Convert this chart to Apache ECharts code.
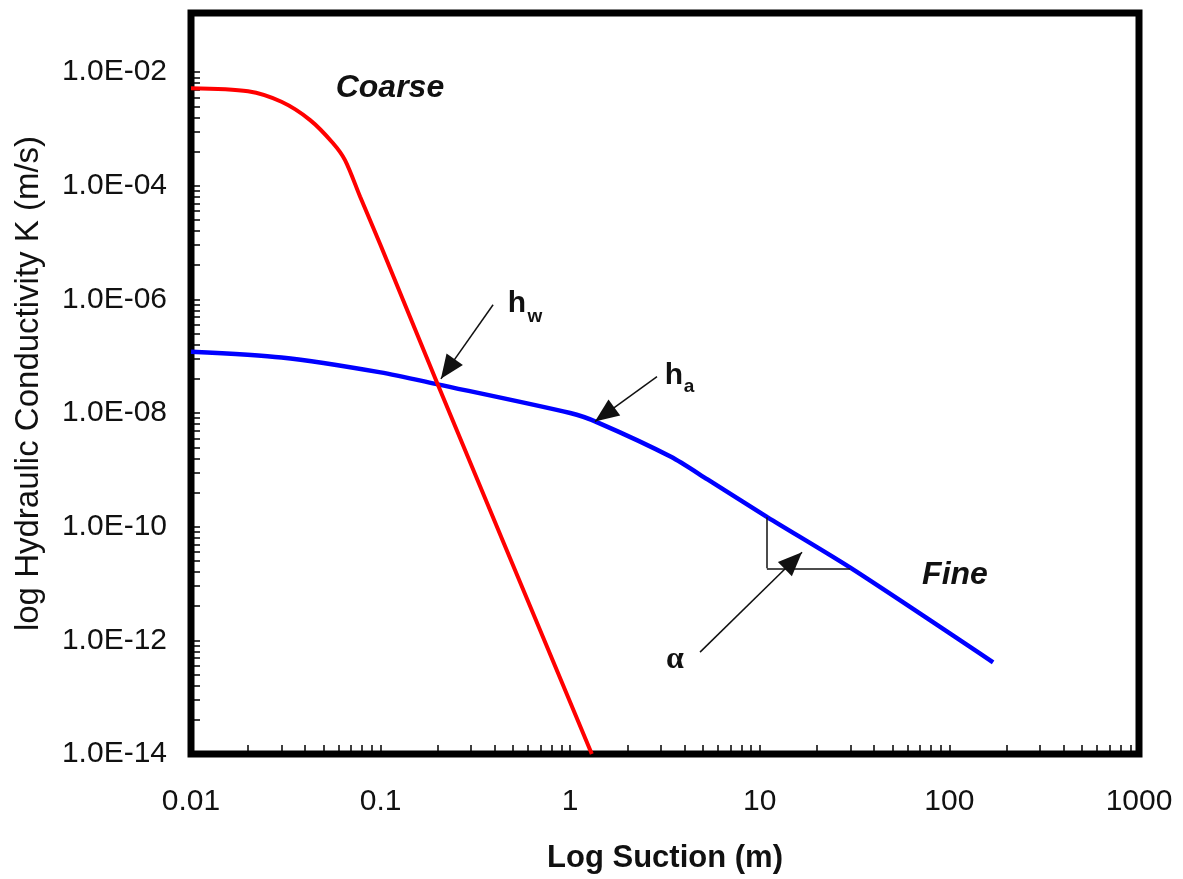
<!DOCTYPE html>
<html>
<head>
<meta charset="utf-8">
<script src="https://cdn.jsdelivr.net/npm/echarts@6/dist/echarts.min.js"></script>
<style>
html,body{margin:0;padding:0;background:#fff;}
#chart{width:1183px;height:879px;}
</style>
</head>
<body>
<div id="chart"></div>
<script>
// ---- data ----
const xTickValues = [0.01, 0.1, 1, 10, 100, 1000];
const xTickLabels = ['0.01', '0.1', '1', '10', '100', '1000'];
const yTickValues = [1e-14, 1e-12, 1e-10, 1e-8, 1e-6, 1e-4, 1e-2];
const yTickLabels = ['1.0E-14', '1.0E-12', '1.0E-10', '1.0E-08', '1.0E-06', '1.0E-04', '1.0E-02'];

const coarseSuction = [0.01, 0.02, 0.03, 0.0425, 0.056, 0.065, 0.078, 0.1, 0.2, 1.3];
const coarseK = [5.2e-3, 4.6e-3, 3.0e-3, 1.43e-3, 5.65e-4, 2.8e-4, 6.4e-5, 9e-6, 3.2e-8, 1e-14];

const fineSuction = [0.01, 0.03, 0.1, 0.2, 1.0, 1.4, 3.4, 5.3, 11, 30, 170];
const fineK = [1.2e-7, 9.5e-8, 5.2e-8, 3.2e-8, 1.0e-8, 6.8e-9, 1.7e-9, 6.8e-10, 1.46e-10, 1.9e-11, 4.1e-13];

// annotation texts: [suction, K, text]
const annotationTexts = [
  [0.112, 5.2e-3, 'Coarse'],
  [107, 1.4e-11, 'Fine'],
  [0.524, 8.4e-7, 'h'],
  [0.652, 4.95e-7, 'w'],
  [3.52, 4.56e-8, 'h'],
  [4.24, 2.9e-8, 'a'],
  [3.57, 4.5e-13, 'α']
];
// arrows: [fromSuction, fromK, toSuction, toK]
const arrows = [
  [0.392, 8.05e-7, 0.208, 4.0e-8],
  [2.87, 4.37e-8, 1.35, 7.08e-9],
  [4.84, 6.2e-13, 16.7, 3.54e-11]
];
// slope triangle segments: [s1, K1, s2, K2]
const slopeLegs = [
  [10.9, 1.46e-10, 10.9, 1.85e-11],
  [10.9, 1.85e-11, 29.9, 1.85e-11]
];

// ---- helpers ----
const lg = v => Math.round(Math.log10(v) * 1e9) / 1e9;
const FONT = '"Liberation Sans", Arial, sans-serif';
const SERIF = '"Liberation Serif", "DejaVu Serif", serif';
const TXT = '#111';

const xMinor = [];
for (let d = -2; d < 3; d++) for (let k = 1; k <= 9; k++) xMinor.push(d + Math.log10(k));
xMinor.push(3);
const yMinor = [];
for (let d = -14; d < -2; d += 2) for (let k = 1; k <= 9; k++) yMinor.push(d + 2 * Math.log10(k));
yMinor.push(-2);

const xLabelVals = xTickValues.map(lg);
const yLabelVals = yTickValues.map(lg);
function lookup(vals, labels, v) {
  for (let i = 0; i < vals.length; i++) if (Math.abs(vals[i] - v) < 1e-6) return labels[i];
  return '';
}

const coarseData = coarseSuction.map((s, i) => [lg(s), lg(coarseK[i])]);
const fineData = fineSuction.map((s, i) => [lg(s), lg(fineK[i])]);

const textStyles = {
  'Coarse': {fontSize: 32, fontStyle: 'italic', fontWeight: 'bold', fontFamily: FONT},
  'Fine': {fontSize: 32, fontStyle: 'italic', fontWeight: 'bold', fontFamily: FONT},
  'h': {fontSize: 30, fontWeight: 'bold', fontFamily: FONT},
  'w': {fontSize: 19, fontWeight: 'bold', fontFamily: FONT},
  'a': {fontSize: 19, fontWeight: 'bold', fontFamily: FONT},
  'α': {fontSize: 32, fontWeight: 'bold', fontFamily: SERIF}
};
const annData = annotationTexts.map(a => [lg(a[0]), lg(a[1])]);

const arrowPath = 'path://M0,0 L10,24 L-10,24 Z';
const markData = arrows.map(a => [
  {coord: [lg(a[0]), lg(a[1])], symbol: 'none'},
  {coord: [lg(a[2]), lg(a[3])], symbol: arrowPath, symbolSize: [20, 24], symbolOffset: [0, 12]}
]).concat(slopeLegs.map(a => [
  {coord: [lg(a[0]), lg(a[1])], symbol: 'none'},
  {coord: [lg(a[2]), lg(a[3])], symbol: 'none'}
]));

const chart = echarts.init(document.getElementById('chart'), null, {renderer: 'canvas'});
chart.setOption({
  animation: false,
  backgroundColor: '#fff',
  grid: {left: 191, right: 44, top: 13, bottom: 124, show: true, borderColor: '#000', borderWidth: 7, backgroundColor: 'transparent'},
  xAxis: {
    type: 'value', min: -2, max: 3,
    axisLine: {show: false, onZero: false},
    splitLine: {show: false},
    axisTick: {show: true, inside: true, length: 9, lineStyle: {color: '#000', width: 1.5}, customValues: xMinor},
    axisLabel: {customValues: xLabelVals, formatter: v => lookup(xLabelVals, xTickLabels, v), fontSize: 30, color: TXT, margin: 33, fontFamily: FONT},
    name: 'Log Suction (m)', nameLocation: 'middle', nameGap: 89,
    nameTextStyle: {fontSize: 31, fontWeight: 'bold', color: TXT, fontFamily: FONT}
  },
  yAxis: {
    type: 'value', min: -14, max: -0.96,
    axisLine: {show: false, onZero: false},
    splitLine: {show: false},
    axisTick: {show: true, inside: true, length: 9, lineStyle: {color: '#000', width: 1.5}, customValues: yMinor},
    axisLabel: {customValues: yLabelVals, formatter: v => lookup(yLabelVals, yTickLabels, v), fontSize: 30, color: TXT, margin: 24, fontFamily: FONT},
    name: 'log Hydraulic Conductivity K (m/s)', nameLocation: 'middle', nameRotate: 90, nameGap: 146,
    nameTextStyle: {fontSize: 33, color: TXT, fontFamily: FONT}
  },
  series: [
    {name: 'Fine', type: 'line', data: fineData, showSymbol: false, smooth: 0.25,
     lineStyle: {color: '#0000ff', width: 4.5}, itemStyle: {color: '#0000ff'}, z: 3},
    {name: 'Coarse', type: 'line', data: coarseData, showSymbol: false, smooth: 0.3,
     lineStyle: {color: '#ff0000', width: 4}, itemStyle: {color: '#ff0000'}, z: 4},
    {name: 'annotations', type: 'custom', data: annData, silent: true, z: 5,
     encode: {x: 0, y: 1},
     renderItem: function (params, api) {
       const p = api.coord([api.value(0), api.value(1)]);
       const t = annotationTexts[params.dataIndex][2];
       const st = textStyles[t];
       return {type: 'text', x: p[0], y: p[1],
         style: {text: t, fill: TXT, fontSize: st.fontSize, fontWeight: st.fontWeight || 'normal',
                 fontStyle: st.fontStyle || 'normal', fontFamily: st.fontFamily,
                 align: 'center', verticalAlign: 'middle'}};
     },
     markLine: {silent: true, animation: false, symbol: ['none', 'none'], label: {show: false},
       lineStyle: {color: '#111', width: 1.5, type: 'solid'}, emphasis: {disabled: true},
       data: markData}}
  ]
});
</script>
</body>
</html>
